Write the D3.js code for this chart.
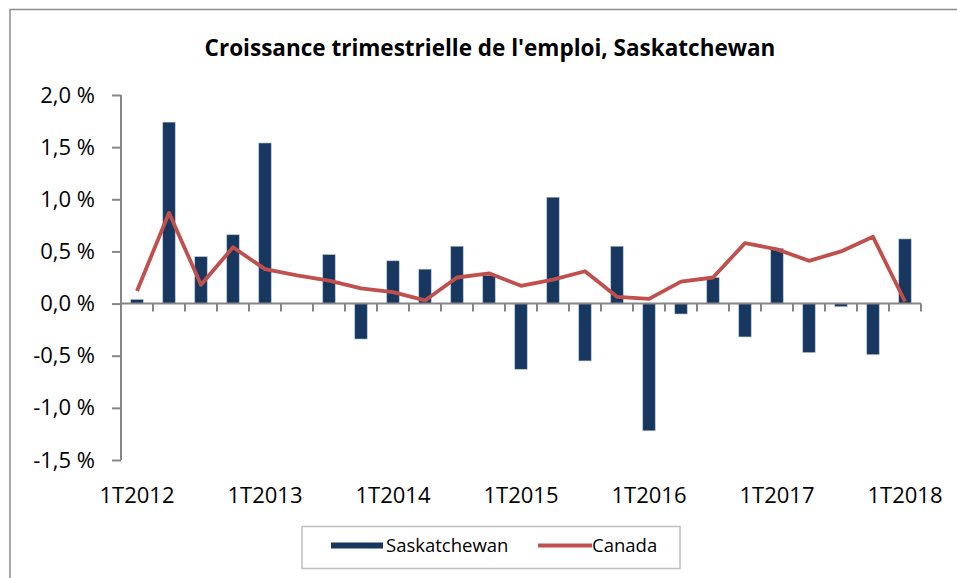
<!DOCTYPE html>
<html>
<head>
<meta charset="utf-8">
<script src="https://cdn.jsdelivr.net/npm/d3@7"></script>
<style>
  body { margin: 0; background: #fff; }
  text { font-family: "Open Sans", sans-serif; fill: #000; }
</style>
</head>
<body>
<svg id="chart"></svg>
<script>
// Chart data
var quarters = ["1T2012", "2T2012", "3T2012", "4T2012",
                "1T2013", "2T2013", "3T2013", "4T2013",
                "1T2014", "2T2014", "3T2014", "4T2014",
                "1T2015", "2T2015", "3T2015", "4T2015",
                "1T2016", "2T2016", "3T2016", "4T2016",
                "1T2017", "2T2017", "3T2017", "4T2017",
                "1T2018"];
var saskatchewan = [0.04, 1.74, 0.45, 0.66, 1.54, 0.0, 0.47, -0.34,
                    0.41, 0.33, 0.55, 0.27, -0.63, 1.02, -0.55, 0.55,
                    -1.22, -0.10, 0.25, -0.32, 0.53, -0.47, -0.03, -0.49, 0.62];
var canada = [0.12, 0.87, 0.18, 0.54, 0.33, 0.27, 0.22, 0.145,
              0.11, 0.03, 0.25, 0.29, 0.17, 0.23, 0.31, 0.065,
              0.045, 0.21, 0.25, 0.58, 0.52, 0.41, 0.50, 0.64, 0.02];
var yTicks = [-1.5, -1.0, -0.5, 0.0, 0.5, 1.0, 1.5, 2.0];
var title = "Croissance trimestrielle de l'emploi, Saskatchewan";

var w = 957, h = 578;
var svg = d3.select("#chart").attr("width", w).attr("height", h);

var frLocale = d3.formatLocale({ decimal: ",", thousands: " ", grouping: [3], currency: ["", " $"], minus: "-" });
var fmt = frLocale.format(".1f");

var x = d3.scaleBand().domain(quarters).range([121, 921]);
var y = d3.scaleLinear().domain([-1.5, 2.0]).range([460, 95]);
var barW = x.bandwidth() * 0.39;

// outer frame
svg.append("rect")
    .attr("x", 10).attr("y", 9.5)
    .attr("width", w + 20).attr("height", h + 20)
    .attr("fill", "none").attr("stroke", "#8c8c8c").attr("stroke-width", 1.5);

// title
svg.append("text")
    .attr("x", 490).attr("y", 56)
    .attr("text-anchor", "middle")
    .style("font-size", "22.5px").style("font-weight", "bold")
    .text(title);

// bars
svg.selectAll(".bar").data(saskatchewan)
    .enter().append("rect")
    .attr("class", "bar")
    .attr("x", function (d, i) { return x(quarters[i]) + (x.bandwidth() - barW) / 2; })
    .attr("y", function (d) { return y(Math.max(0, d)); })
    .attr("width", barW)
    .attr("height", function (d) { return Math.abs(y(d) - y(0)); })
    .attr("fill", "#17375e")
    .attr("stroke", "#b8c6d8").attr("stroke-width", 0.6);

var axisColor = "#868686";

// y axis
var yAxis = svg.append("g").attr("transform", "translate(121,0)")
    .call(d3.axisLeft(y).tickValues(yTicks).tickSize(9).tickPadding(17)
        .tickFormat(function (d) { return fmt(d) + " %"; }));
yAxis.select(".domain").attr("stroke", axisColor).attr("stroke-width", 2)
    .attr("d", "M0," + y(2.0) + "V" + y(-1.5));
yAxis.selectAll(".tick line").attr("stroke", axisColor).attr("stroke-width", 2);
yAxis.selectAll(".tick text").style("font-size", "22px").style("font-family", "Open Sans").attr("fill", "#000");

// x axis, ticks at category boundaries
var xg = svg.append("g").attr("transform", "translate(0," + y(0) + ")");
xg.append("line").attr("x1", 121).attr("x2", 921)
    .attr("stroke", axisColor).attr("stroke-width", 2);
xg.selectAll(".xt").data(quarters)
    .enter().append("line")
    .attr("x1", function (d) { return x(d) + x.bandwidth(); })
    .attr("x2", function (d) { return x(d) + x.bandwidth(); })
    .attr("y1", 0).attr("y2", 8)
    .attr("stroke", axisColor).attr("stroke-width", 2);

// x labels (first quarter of each year), at bottom
svg.selectAll(".xl").data(quarters.filter(function (q) { return q.charAt(0) === "1"; }))
    .enter().append("text")
    .attr("x", function (d) { return x(d) + x.bandwidth() / 2; })
    .attr("y", 503)
    .attr("text-anchor", "middle")
    .style("font-size", "22px")
    .text(function (d) { return d; });

// Canada line
var line = d3.line()
    .x(function (d, i) { return x(quarters[i]) + x.bandwidth() / 2; })
    .y(function (d) { return y(d); });
svg.append("path").datum(canada)
    .attr("d", line)
    .attr("fill", "none")
    .attr("stroke", "#c0504d")
    .attr("stroke-width", 3.8)
    .attr("stroke-linejoin", "round");

// legend
var lg = svg.append("g");
lg.append("rect").attr("x", 302).attr("y", 526.5).attr("width", 378).attr("height", 42)
    .attr("fill", "#fff").attr("stroke", "#bfbfbf").attr("stroke-width", 1.5);
lg.append("rect").attr("x", 331).attr("y", 542.5).attr("width", 52).attr("height", 6)
    .attr("fill", "#17375e");
lg.append("text").attr("x", 386).attr("y", 552).style("font-size", "18.5px").text("Saskatchewan");
lg.append("line").attr("x1", 538).attr("x2", 592).attr("y1", 545.5).attr("y2", 545.5)
    .attr("stroke", "#c0504d").attr("stroke-width", 3.8);
lg.append("text").attr("x", 592).attr("y", 552).style("font-size", "18.5px").text("Canada");
</script>
</body>
</html>
